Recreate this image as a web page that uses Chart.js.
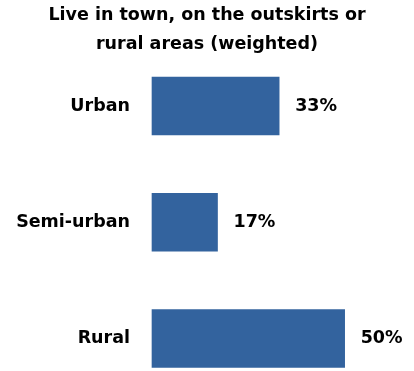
<!DOCTYPE html>
<html>
<head>
<meta charset="utf-8">
<script src="https://cdn.jsdelivr.net/npm/chart.js@4/dist/chart.umd.min.js"></script>
<style>
  html, body { margin: 0; padding: 0; background: #fff; }
  #wrap { width: 414px; height: 371px; }
</style>
</head>
<body>
<div id="wrap"><canvas id="areaChart" width="414" height="371"></canvas></div>
<script>
// ---- data ----
const titleLines = ["Live in town, on the outskirts or", "rural areas (weighted)"];
const categories = ["Urban", "Semi-urban", "Rural"];
const shares = [33, 17, 50];

const FONT = "'DejaVu Sans', sans-serif";
const SIZE = 17.5;

// draws "33%" etc just right of each bar end
const valueLabels = {
  id: "valueLabels",
  afterDatasetsDraw(chart) {
    const ctx = chart.ctx;
    const meta = chart.getDatasetMeta(0);
    ctx.save();
    ctx.font = "bold " + SIZE + "px " + FONT;
    ctx.fillStyle = "#000";
    ctx.textAlign = "left";
    ctx.textBaseline = "middle";
    meta.data.forEach((bar, i) => {
      ctx.fillText(shares[i] + "%", bar.x + 16, bar.y);
    });
    ctx.restore();
  }
};

new Chart(document.getElementById("areaChart"), {
  type: "bar",
  data: {
    labels: categories,
    datasets: [{
      data: shares,
      backgroundColor: "#33639E",
      borderWidth: 0,
      barThickness: 58,
      clip: false
    }]
  },
  options: {
    indexAxis: "y",
    responsive: false,
    animation: false,
    layout: { padding: { bottom: 29 } },
    plugins: {
      legend: { display: false },
      tooltip: { enabled: false },
      title: {
        display: true,
        text: titleLines,
        color: "#000",
        font: { family: FONT, size: SIZE, weight: "bold", lineHeight: "29px" },
        padding: { top: 0.5, bottom: 47.5 }
      }
    },
    scales: {
      x: {
        display: false,
        min: 0,
        max: 68
      },
      y: {
        offset: false,
        grid: { display: false, drawTicks: false },
        border: { display: false },
        ticks: {
          color: "#000",
          padding: 22,
          font: { family: FONT, size: SIZE, weight: "bold" }
        },
        afterFit(scale) { scale.width = 152; }
      }
    }
  },
  plugins: [valueLabels]
});
</script>
</body>
</html>
